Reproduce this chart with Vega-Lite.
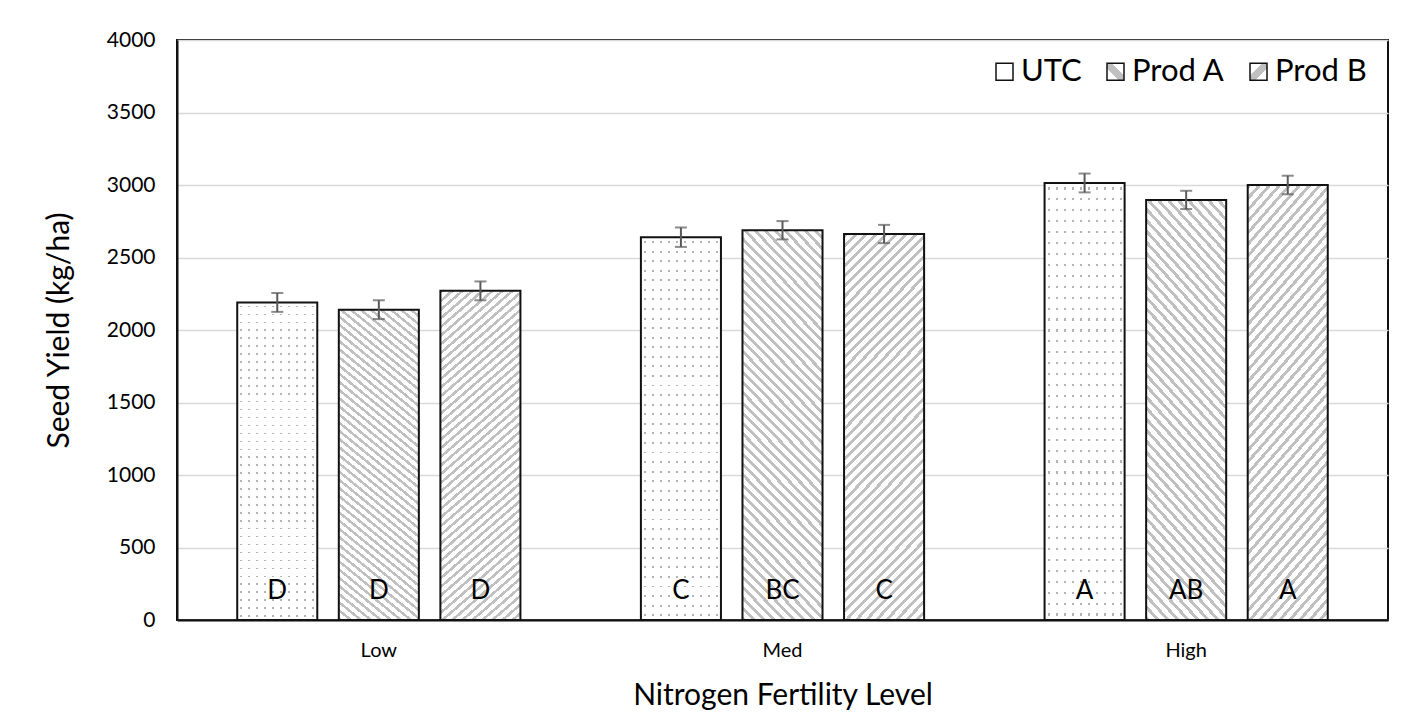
{
"$schema": "https://vega.github.io/schema/vega-lite/v6.json",
"width": 1211, "height": 580,
"autosize": {"type": "none"},
"padding": {"left": 177, "top": 40, "right": 34, "bottom": 95},
"background": "white",
"data": {"values": [
{"level":"Low","trt":"UTC","yield":2190,"lo":2125,"hi":2255,"letter":"D"},
{"level":"Low","trt":"Prod A","yield":2140,"lo":2075,"hi":2205,"letter":"D"},
{"level":"Low","trt":"Prod B","yield":2270,"lo":2205,"hi":2335,"letter":"D"},
{"level":"Med","trt":"UTC","yield":2640,"lo":2573,"hi":2707,"letter":"C"},
{"level":"Med","trt":"Prod A","yield":2688,"lo":2625,"hi":2751,"letter":"BC"},
{"level":"Med","trt":"Prod B","yield":2662,"lo":2599,"hi":2725,"letter":"C"},
{"level":"High","trt":"UTC","yield":3014,"lo":2949,"hi":3079,"letter":"A"},
{"level":"High","trt":"Prod A","yield":2897,"lo":2834,"hi":2960,"letter":"AB"},
{"level":"High","trt":"Prod B","yield":3000,"lo":2936,"hi":3064,"letter":"A"}
]},
"encoding": {
"x": {"field":"level","type":"nominal","sort":["Low","Med","High"],"scale":{"paddingInner":0,"paddingOuter":0},
 "axis":{"title":"Nitrogen Fertility Level","labelAngle":0,"labelFontSize":20,"labelPadding":20,"titleFontSize":30,"titlePadding":20,"grid":false}},
"xOffset": {"field":"trt","type":"nominal","sort":["UTC","Prod A","Prod B"],"scale":{"domain":["UTC","Prod A","Prod B"],"paddingInner":0.212,"paddingOuter":0.593}}
},
"layer": [
{"transform":[{"filter":"datum.trt === 'UTC'"}],
 "mark":{"type":"bar","strokeWidth":0,"fill":{"gradient":"linear","x1":0,"y1":0,"x2":1,"y2":0,"stops":[
{"offset":0.04,"color":"#fff"},{"offset":0.04,"color":"#b4b4b4"},{"offset":0.065,"color":"#b4b4b4"},{"offset":0.065,"color":"#fff"},
{"offset":0.14,"color":"#fff"},{"offset":0.14,"color":"#b4b4b4"},{"offset":0.165,"color":"#b4b4b4"},{"offset":0.165,"color":"#fff"},
{"offset":0.24,"color":"#fff"},{"offset":0.24,"color":"#b4b4b4"},{"offset":0.265,"color":"#b4b4b4"},{"offset":0.265,"color":"#fff"},
{"offset":0.34,"color":"#fff"},{"offset":0.34,"color":"#b4b4b4"},{"offset":0.365,"color":"#b4b4b4"},{"offset":0.365,"color":"#fff"},
{"offset":0.44,"color":"#fff"},{"offset":0.44,"color":"#b4b4b4"},{"offset":0.465,"color":"#b4b4b4"},{"offset":0.465,"color":"#fff"},
{"offset":0.54,"color":"#fff"},{"offset":0.54,"color":"#b4b4b4"},{"offset":0.565,"color":"#b4b4b4"},{"offset":0.565,"color":"#fff"},
{"offset":0.64,"color":"#fff"},{"offset":0.64,"color":"#b4b4b4"},{"offset":0.665,"color":"#b4b4b4"},{"offset":0.665,"color":"#fff"},
{"offset":0.74,"color":"#fff"},{"offset":0.74,"color":"#b4b4b4"},{"offset":0.765,"color":"#b4b4b4"},{"offset":0.765,"color":"#fff"},
{"offset":0.84,"color":"#fff"},{"offset":0.84,"color":"#b4b4b4"},{"offset":0.865,"color":"#b4b4b4"},{"offset":0.865,"color":"#fff"},
{"offset":0.94,"color":"#fff"},{"offset":0.94,"color":"#b4b4b4"},{"offset":0.965,"color":"#b4b4b4"},{"offset":0.965,"color":"#fff"}
]}},
 "encoding":{"y":{"field":"yield","type":"quantitative","scale":{"domain":[0,4000],"nice":false},
  "axis":{"title":"Seed Yield (kg/ha)","format":"d","values":[0,500,1000,1500,2000,2500,3000,3500,4000],"labelFontSize":21,"labelPadding":22,"titleFontSize":30,"titlePadding":32,"grid":true}}}},
{"transform":[{"filter":"datum.trt === 'UTC'"}],
 "mark":{"type":"bar","stroke":"#111","strokeWidth":2,"fill":{"gradient":"linear","x1":0,"y1":0,"x2":0,"y2":1,"stops":[
{"offset":0.01,"color":"#fff"},{"offset":0.01,"color":"rgba(255,255,255,0)"},{"offset":0.015,"color":"rgba(255,255,255,0)"},{"offset":0.015,"color":"#fff"},
{"offset":0.035,"color":"#fff"},{"offset":0.035,"color":"rgba(255,255,255,0)"},{"offset":0.04,"color":"rgba(255,255,255,0)"},{"offset":0.04,"color":"#fff"},
{"offset":0.06,"color":"#fff"},{"offset":0.06,"color":"rgba(255,255,255,0)"},{"offset":0.065,"color":"rgba(255,255,255,0)"},{"offset":0.065,"color":"#fff"},
{"offset":0.085,"color":"#fff"},{"offset":0.085,"color":"rgba(255,255,255,0)"},{"offset":0.09,"color":"rgba(255,255,255,0)"},{"offset":0.09,"color":"#fff"},
{"offset":0.11,"color":"#fff"},{"offset":0.11,"color":"rgba(255,255,255,0)"},{"offset":0.115,"color":"rgba(255,255,255,0)"},{"offset":0.115,"color":"#fff"},
{"offset":0.135,"color":"#fff"},{"offset":0.135,"color":"rgba(255,255,255,0)"},{"offset":0.14,"color":"rgba(255,255,255,0)"},{"offset":0.14,"color":"#fff"},
{"offset":0.16,"color":"#fff"},{"offset":0.16,"color":"rgba(255,255,255,0)"},{"offset":0.165,"color":"rgba(255,255,255,0)"},{"offset":0.165,"color":"#fff"},
{"offset":0.185,"color":"#fff"},{"offset":0.185,"color":"rgba(255,255,255,0)"},{"offset":0.19,"color":"rgba(255,255,255,0)"},{"offset":0.19,"color":"#fff"},
{"offset":0.21,"color":"#fff"},{"offset":0.21,"color":"rgba(255,255,255,0)"},{"offset":0.215,"color":"rgba(255,255,255,0)"},{"offset":0.215,"color":"#fff"},
{"offset":0.235,"color":"#fff"},{"offset":0.235,"color":"rgba(255,255,255,0)"},{"offset":0.24,"color":"rgba(255,255,255,0)"},{"offset":0.24,"color":"#fff"},
{"offset":0.26,"color":"#fff"},{"offset":0.26,"color":"rgba(255,255,255,0)"},{"offset":0.265,"color":"rgba(255,255,255,0)"},{"offset":0.265,"color":"#fff"},
{"offset":0.285,"color":"#fff"},{"offset":0.285,"color":"rgba(255,255,255,0)"},{"offset":0.29,"color":"rgba(255,255,255,0)"},{"offset":0.29,"color":"#fff"},
{"offset":0.31,"color":"#fff"},{"offset":0.31,"color":"rgba(255,255,255,0)"},{"offset":0.315,"color":"rgba(255,255,255,0)"},{"offset":0.315,"color":"#fff"},
{"offset":0.335,"color":"#fff"},{"offset":0.335,"color":"rgba(255,255,255,0)"},{"offset":0.34,"color":"rgba(255,255,255,0)"},{"offset":0.34,"color":"#fff"},
{"offset":0.36,"color":"#fff"},{"offset":0.36,"color":"rgba(255,255,255,0)"},{"offset":0.365,"color":"rgba(255,255,255,0)"},{"offset":0.365,"color":"#fff"},
{"offset":0.385,"color":"#fff"},{"offset":0.385,"color":"rgba(255,255,255,0)"},{"offset":0.39,"color":"rgba(255,255,255,0)"},{"offset":0.39,"color":"#fff"},
{"offset":0.41,"color":"#fff"},{"offset":0.41,"color":"rgba(255,255,255,0)"},{"offset":0.415,"color":"rgba(255,255,255,0)"},{"offset":0.415,"color":"#fff"},
{"offset":0.435,"color":"#fff"},{"offset":0.435,"color":"rgba(255,255,255,0)"},{"offset":0.44,"color":"rgba(255,255,255,0)"},{"offset":0.44,"color":"#fff"},
{"offset":0.46,"color":"#fff"},{"offset":0.46,"color":"rgba(255,255,255,0)"},{"offset":0.465,"color":"rgba(255,255,255,0)"},{"offset":0.465,"color":"#fff"},
{"offset":0.485,"color":"#fff"},{"offset":0.485,"color":"rgba(255,255,255,0)"},{"offset":0.49,"color":"rgba(255,255,255,0)"},{"offset":0.49,"color":"#fff"},
{"offset":0.51,"color":"#fff"},{"offset":0.51,"color":"rgba(255,255,255,0)"},{"offset":0.515,"color":"rgba(255,255,255,0)"},{"offset":0.515,"color":"#fff"},
{"offset":0.535,"color":"#fff"},{"offset":0.535,"color":"rgba(255,255,255,0)"},{"offset":0.54,"color":"rgba(255,255,255,0)"},{"offset":0.54,"color":"#fff"},
{"offset":0.56,"color":"#fff"},{"offset":0.56,"color":"rgba(255,255,255,0)"},{"offset":0.565,"color":"rgba(255,255,255,0)"},{"offset":0.565,"color":"#fff"},
{"offset":0.585,"color":"#fff"},{"offset":0.585,"color":"rgba(255,255,255,0)"},{"offset":0.59,"color":"rgba(255,255,255,0)"},{"offset":0.59,"color":"#fff"},
{"offset":0.61,"color":"#fff"},{"offset":0.61,"color":"rgba(255,255,255,0)"},{"offset":0.615,"color":"rgba(255,255,255,0)"},{"offset":0.615,"color":"#fff"},
{"offset":0.635,"color":"#fff"},{"offset":0.635,"color":"rgba(255,255,255,0)"},{"offset":0.64,"color":"rgba(255,255,255,0)"},{"offset":0.64,"color":"#fff"},
{"offset":0.66,"color":"#fff"},{"offset":0.66,"color":"rgba(255,255,255,0)"},{"offset":0.665,"color":"rgba(255,255,255,0)"},{"offset":0.665,"color":"#fff"},
{"offset":0.685,"color":"#fff"},{"offset":0.685,"color":"rgba(255,255,255,0)"},{"offset":0.69,"color":"rgba(255,255,255,0)"},{"offset":0.69,"color":"#fff"},
{"offset":0.71,"color":"#fff"},{"offset":0.71,"color":"rgba(255,255,255,0)"},{"offset":0.715,"color":"rgba(255,255,255,0)"},{"offset":0.715,"color":"#fff"},
{"offset":0.735,"color":"#fff"},{"offset":0.735,"color":"rgba(255,255,255,0)"},{"offset":0.74,"color":"rgba(255,255,255,0)"},{"offset":0.74,"color":"#fff"},
{"offset":0.76,"color":"#fff"},{"offset":0.76,"color":"rgba(255,255,255,0)"},{"offset":0.765,"color":"rgba(255,255,255,0)"},{"offset":0.765,"color":"#fff"},
{"offset":0.785,"color":"#fff"},{"offset":0.785,"color":"rgba(255,255,255,0)"},{"offset":0.79,"color":"rgba(255,255,255,0)"},{"offset":0.79,"color":"#fff"},
{"offset":0.81,"color":"#fff"},{"offset":0.81,"color":"rgba(255,255,255,0)"},{"offset":0.815,"color":"rgba(255,255,255,0)"},{"offset":0.815,"color":"#fff"},
{"offset":0.835,"color":"#fff"},{"offset":0.835,"color":"rgba(255,255,255,0)"},{"offset":0.84,"color":"rgba(255,255,255,0)"},{"offset":0.84,"color":"#fff"},
{"offset":0.86,"color":"#fff"},{"offset":0.86,"color":"rgba(255,255,255,0)"},{"offset":0.865,"color":"rgba(255,255,255,0)"},{"offset":0.865,"color":"#fff"},
{"offset":0.885,"color":"#fff"},{"offset":0.885,"color":"rgba(255,255,255,0)"},{"offset":0.89,"color":"rgba(255,255,255,0)"},{"offset":0.89,"color":"#fff"},
{"offset":0.91,"color":"#fff"},{"offset":0.91,"color":"rgba(255,255,255,0)"},{"offset":0.915,"color":"rgba(255,255,255,0)"},{"offset":0.915,"color":"#fff"},
{"offset":0.935,"color":"#fff"},{"offset":0.935,"color":"rgba(255,255,255,0)"},{"offset":0.94,"color":"rgba(255,255,255,0)"},{"offset":0.94,"color":"#fff"},
{"offset":0.96,"color":"#fff"},{"offset":0.96,"color":"rgba(255,255,255,0)"},{"offset":0.965,"color":"rgba(255,255,255,0)"},{"offset":0.965,"color":"#fff"},
{"offset":0.985,"color":"#fff"},{"offset":0.985,"color":"rgba(255,255,255,0)"},{"offset":0.99,"color":"rgba(255,255,255,0)"},{"offset":0.99,"color":"#fff"}
]}},
 "encoding":{"y":{"field":"yield","type":"quantitative"}}},
{"transform":[{"filter":"datum.trt === 'Prod A'"}],
 "mark":{"type":"bar","stroke":"#111","strokeWidth":2,"fill":{"gradient":"linear","x1":0,"y1":1,"x2":0.265,"y2":-0.26,"stops":[
{"offset":0,"color":"#c0c0c0"},{"offset":0.008,"color":"#c0c0c0"},{"offset":0.008,"color":"#fff"},{"offset":0.02,"color":"#fff"},
{"offset":0.02,"color":"#c0c0c0"},{"offset":0.028,"color":"#c0c0c0"},{"offset":0.028,"color":"#fff"},{"offset":0.04,"color":"#fff"},
{"offset":0.04,"color":"#c0c0c0"},{"offset":0.048,"color":"#c0c0c0"},{"offset":0.048,"color":"#fff"},{"offset":0.06,"color":"#fff"},
{"offset":0.06,"color":"#c0c0c0"},{"offset":0.068,"color":"#c0c0c0"},{"offset":0.068,"color":"#fff"},{"offset":0.08,"color":"#fff"},
{"offset":0.08,"color":"#c0c0c0"},{"offset":0.088,"color":"#c0c0c0"},{"offset":0.088,"color":"#fff"},{"offset":0.1,"color":"#fff"},
{"offset":0.1,"color":"#c0c0c0"},{"offset":0.108,"color":"#c0c0c0"},{"offset":0.108,"color":"#fff"},{"offset":0.12,"color":"#fff"},
{"offset":0.12,"color":"#c0c0c0"},{"offset":0.128,"color":"#c0c0c0"},{"offset":0.128,"color":"#fff"},{"offset":0.14,"color":"#fff"},
{"offset":0.14,"color":"#c0c0c0"},{"offset":0.148,"color":"#c0c0c0"},{"offset":0.148,"color":"#fff"},{"offset":0.16,"color":"#fff"},
{"offset":0.16,"color":"#c0c0c0"},{"offset":0.168,"color":"#c0c0c0"},{"offset":0.168,"color":"#fff"},{"offset":0.18,"color":"#fff"},
{"offset":0.18,"color":"#c0c0c0"},{"offset":0.188,"color":"#c0c0c0"},{"offset":0.188,"color":"#fff"},{"offset":0.2,"color":"#fff"},
{"offset":0.2,"color":"#c0c0c0"},{"offset":0.208,"color":"#c0c0c0"},{"offset":0.208,"color":"#fff"},{"offset":0.22,"color":"#fff"},
{"offset":0.22,"color":"#c0c0c0"},{"offset":0.228,"color":"#c0c0c0"},{"offset":0.228,"color":"#fff"},{"offset":0.24,"color":"#fff"},
{"offset":0.24,"color":"#c0c0c0"},{"offset":0.248,"color":"#c0c0c0"},{"offset":0.248,"color":"#fff"},{"offset":0.26,"color":"#fff"},
{"offset":0.26,"color":"#c0c0c0"},{"offset":0.268,"color":"#c0c0c0"},{"offset":0.268,"color":"#fff"},{"offset":0.28,"color":"#fff"},
{"offset":0.28,"color":"#c0c0c0"},{"offset":0.288,"color":"#c0c0c0"},{"offset":0.288,"color":"#fff"},{"offset":0.3,"color":"#fff"},
{"offset":0.3,"color":"#c0c0c0"},{"offset":0.308,"color":"#c0c0c0"},{"offset":0.308,"color":"#fff"},{"offset":0.32,"color":"#fff"},
{"offset":0.32,"color":"#c0c0c0"},{"offset":0.328,"color":"#c0c0c0"},{"offset":0.328,"color":"#fff"},{"offset":0.34,"color":"#fff"},
{"offset":0.34,"color":"#c0c0c0"},{"offset":0.348,"color":"#c0c0c0"},{"offset":0.348,"color":"#fff"},{"offset":0.36,"color":"#fff"},
{"offset":0.36,"color":"#c0c0c0"},{"offset":0.368,"color":"#c0c0c0"},{"offset":0.368,"color":"#fff"},{"offset":0.38,"color":"#fff"},
{"offset":0.38,"color":"#c0c0c0"},{"offset":0.388,"color":"#c0c0c0"},{"offset":0.388,"color":"#fff"},{"offset":0.4,"color":"#fff"},
{"offset":0.4,"color":"#c0c0c0"},{"offset":0.408,"color":"#c0c0c0"},{"offset":0.408,"color":"#fff"},{"offset":0.42,"color":"#fff"},
{"offset":0.42,"color":"#c0c0c0"},{"offset":0.428,"color":"#c0c0c0"},{"offset":0.428,"color":"#fff"},{"offset":0.44,"color":"#fff"},
{"offset":0.44,"color":"#c0c0c0"},{"offset":0.448,"color":"#c0c0c0"},{"offset":0.448,"color":"#fff"},{"offset":0.46,"color":"#fff"},
{"offset":0.46,"color":"#c0c0c0"},{"offset":0.468,"color":"#c0c0c0"},{"offset":0.468,"color":"#fff"},{"offset":0.48,"color":"#fff"},
{"offset":0.48,"color":"#c0c0c0"},{"offset":0.488,"color":"#c0c0c0"},{"offset":0.488,"color":"#fff"},{"offset":0.5,"color":"#fff"},
{"offset":0.5,"color":"#c0c0c0"},{"offset":0.508,"color":"#c0c0c0"},{"offset":0.508,"color":"#fff"},{"offset":0.52,"color":"#fff"},
{"offset":0.52,"color":"#c0c0c0"},{"offset":0.528,"color":"#c0c0c0"},{"offset":0.528,"color":"#fff"},{"offset":0.54,"color":"#fff"},
{"offset":0.54,"color":"#c0c0c0"},{"offset":0.548,"color":"#c0c0c0"},{"offset":0.548,"color":"#fff"},{"offset":0.56,"color":"#fff"},
{"offset":0.56,"color":"#c0c0c0"},{"offset":0.568,"color":"#c0c0c0"},{"offset":0.568,"color":"#fff"},{"offset":0.58,"color":"#fff"},
{"offset":0.58,"color":"#c0c0c0"},{"offset":0.588,"color":"#c0c0c0"},{"offset":0.588,"color":"#fff"},{"offset":0.6,"color":"#fff"},
{"offset":0.6,"color":"#c0c0c0"},{"offset":0.608,"color":"#c0c0c0"},{"offset":0.608,"color":"#fff"},{"offset":0.62,"color":"#fff"},
{"offset":0.62,"color":"#c0c0c0"},{"offset":0.628,"color":"#c0c0c0"},{"offset":0.628,"color":"#fff"},{"offset":0.64,"color":"#fff"},
{"offset":0.64,"color":"#c0c0c0"},{"offset":0.648,"color":"#c0c0c0"},{"offset":0.648,"color":"#fff"},{"offset":0.66,"color":"#fff"},
{"offset":0.66,"color":"#c0c0c0"},{"offset":0.668,"color":"#c0c0c0"},{"offset":0.668,"color":"#fff"},{"offset":0.68,"color":"#fff"},
{"offset":0.68,"color":"#c0c0c0"},{"offset":0.688,"color":"#c0c0c0"},{"offset":0.688,"color":"#fff"},{"offset":0.7,"color":"#fff"},
{"offset":0.7,"color":"#c0c0c0"},{"offset":0.708,"color":"#c0c0c0"},{"offset":0.708,"color":"#fff"},{"offset":0.72,"color":"#fff"},
{"offset":0.72,"color":"#c0c0c0"},{"offset":0.728,"color":"#c0c0c0"},{"offset":0.728,"color":"#fff"},{"offset":0.74,"color":"#fff"},
{"offset":0.74,"color":"#c0c0c0"},{"offset":0.748,"color":"#c0c0c0"},{"offset":0.748,"color":"#fff"},{"offset":0.76,"color":"#fff"},
{"offset":0.76,"color":"#c0c0c0"},{"offset":0.768,"color":"#c0c0c0"},{"offset":0.768,"color":"#fff"},{"offset":0.78,"color":"#fff"},
{"offset":0.78,"color":"#c0c0c0"},{"offset":0.788,"color":"#c0c0c0"},{"offset":0.788,"color":"#fff"},{"offset":0.8,"color":"#fff"},
{"offset":0.8,"color":"#c0c0c0"},{"offset":0.808,"color":"#c0c0c0"},{"offset":0.808,"color":"#fff"},{"offset":0.82,"color":"#fff"},
{"offset":0.82,"color":"#c0c0c0"},{"offset":0.828,"color":"#c0c0c0"},{"offset":0.828,"color":"#fff"},{"offset":0.84,"color":"#fff"},
{"offset":0.84,"color":"#c0c0c0"},{"offset":0.848,"color":"#c0c0c0"},{"offset":0.848,"color":"#fff"},{"offset":0.86,"color":"#fff"},
{"offset":0.86,"color":"#c0c0c0"},{"offset":0.868,"color":"#c0c0c0"},{"offset":0.868,"color":"#fff"},{"offset":0.88,"color":"#fff"},
{"offset":0.88,"color":"#c0c0c0"},{"offset":0.888,"color":"#c0c0c0"},{"offset":0.888,"color":"#fff"},{"offset":0.9,"color":"#fff"},
{"offset":0.9,"color":"#c0c0c0"},{"offset":0.908,"color":"#c0c0c0"},{"offset":0.908,"color":"#fff"},{"offset":0.92,"color":"#fff"},
{"offset":0.92,"color":"#c0c0c0"},{"offset":0.928,"color":"#c0c0c0"},{"offset":0.928,"color":"#fff"},{"offset":0.94,"color":"#fff"}
]}},
 "encoding":{"y":{"field":"yield","type":"quantitative"}}},
{"transform":[{"filter":"datum.trt === 'Prod B'"}],
 "mark":{"type":"bar","stroke":"#111","strokeWidth":2,"fill":{"gradient":"linear","x1":0,"y1":0,"x2":0.265,"y2":1.26,"stops":[
{"offset":0,"color":"#c0c0c0"},{"offset":0.008,"color":"#c0c0c0"},{"offset":0.008,"color":"#fff"},{"offset":0.02,"color":"#fff"},
{"offset":0.02,"color":"#c0c0c0"},{"offset":0.028,"color":"#c0c0c0"},{"offset":0.028,"color":"#fff"},{"offset":0.04,"color":"#fff"},
{"offset":0.04,"color":"#c0c0c0"},{"offset":0.048,"color":"#c0c0c0"},{"offset":0.048,"color":"#fff"},{"offset":0.06,"color":"#fff"},
{"offset":0.06,"color":"#c0c0c0"},{"offset":0.068,"color":"#c0c0c0"},{"offset":0.068,"color":"#fff"},{"offset":0.08,"color":"#fff"},
{"offset":0.08,"color":"#c0c0c0"},{"offset":0.088,"color":"#c0c0c0"},{"offset":0.088,"color":"#fff"},{"offset":0.1,"color":"#fff"},
{"offset":0.1,"color":"#c0c0c0"},{"offset":0.108,"color":"#c0c0c0"},{"offset":0.108,"color":"#fff"},{"offset":0.12,"color":"#fff"},
{"offset":0.12,"color":"#c0c0c0"},{"offset":0.128,"color":"#c0c0c0"},{"offset":0.128,"color":"#fff"},{"offset":0.14,"color":"#fff"},
{"offset":0.14,"color":"#c0c0c0"},{"offset":0.148,"color":"#c0c0c0"},{"offset":0.148,"color":"#fff"},{"offset":0.16,"color":"#fff"},
{"offset":0.16,"color":"#c0c0c0"},{"offset":0.168,"color":"#c0c0c0"},{"offset":0.168,"color":"#fff"},{"offset":0.18,"color":"#fff"},
{"offset":0.18,"color":"#c0c0c0"},{"offset":0.188,"color":"#c0c0c0"},{"offset":0.188,"color":"#fff"},{"offset":0.2,"color":"#fff"},
{"offset":0.2,"color":"#c0c0c0"},{"offset":0.208,"color":"#c0c0c0"},{"offset":0.208,"color":"#fff"},{"offset":0.22,"color":"#fff"},
{"offset":0.22,"color":"#c0c0c0"},{"offset":0.228,"color":"#c0c0c0"},{"offset":0.228,"color":"#fff"},{"offset":0.24,"color":"#fff"},
{"offset":0.24,"color":"#c0c0c0"},{"offset":0.248,"color":"#c0c0c0"},{"offset":0.248,"color":"#fff"},{"offset":0.26,"color":"#fff"},
{"offset":0.26,"color":"#c0c0c0"},{"offset":0.268,"color":"#c0c0c0"},{"offset":0.268,"color":"#fff"},{"offset":0.28,"color":"#fff"},
{"offset":0.28,"color":"#c0c0c0"},{"offset":0.288,"color":"#c0c0c0"},{"offset":0.288,"color":"#fff"},{"offset":0.3,"color":"#fff"},
{"offset":0.3,"color":"#c0c0c0"},{"offset":0.308,"color":"#c0c0c0"},{"offset":0.308,"color":"#fff"},{"offset":0.32,"color":"#fff"},
{"offset":0.32,"color":"#c0c0c0"},{"offset":0.328,"color":"#c0c0c0"},{"offset":0.328,"color":"#fff"},{"offset":0.34,"color":"#fff"},
{"offset":0.34,"color":"#c0c0c0"},{"offset":0.348,"color":"#c0c0c0"},{"offset":0.348,"color":"#fff"},{"offset":0.36,"color":"#fff"},
{"offset":0.36,"color":"#c0c0c0"},{"offset":0.368,"color":"#c0c0c0"},{"offset":0.368,"color":"#fff"},{"offset":0.38,"color":"#fff"},
{"offset":0.38,"color":"#c0c0c0"},{"offset":0.388,"color":"#c0c0c0"},{"offset":0.388,"color":"#fff"},{"offset":0.4,"color":"#fff"},
{"offset":0.4,"color":"#c0c0c0"},{"offset":0.408,"color":"#c0c0c0"},{"offset":0.408,"color":"#fff"},{"offset":0.42,"color":"#fff"},
{"offset":0.42,"color":"#c0c0c0"},{"offset":0.428,"color":"#c0c0c0"},{"offset":0.428,"color":"#fff"},{"offset":0.44,"color":"#fff"},
{"offset":0.44,"color":"#c0c0c0"},{"offset":0.448,"color":"#c0c0c0"},{"offset":0.448,"color":"#fff"},{"offset":0.46,"color":"#fff"},
{"offset":0.46,"color":"#c0c0c0"},{"offset":0.468,"color":"#c0c0c0"},{"offset":0.468,"color":"#fff"},{"offset":0.48,"color":"#fff"},
{"offset":0.48,"color":"#c0c0c0"},{"offset":0.488,"color":"#c0c0c0"},{"offset":0.488,"color":"#fff"},{"offset":0.5,"color":"#fff"},
{"offset":0.5,"color":"#c0c0c0"},{"offset":0.508,"color":"#c0c0c0"},{"offset":0.508,"color":"#fff"},{"offset":0.52,"color":"#fff"},
{"offset":0.52,"color":"#c0c0c0"},{"offset":0.528,"color":"#c0c0c0"},{"offset":0.528,"color":"#fff"},{"offset":0.54,"color":"#fff"},
{"offset":0.54,"color":"#c0c0c0"},{"offset":0.548,"color":"#c0c0c0"},{"offset":0.548,"color":"#fff"},{"offset":0.56,"color":"#fff"},
{"offset":0.56,"color":"#c0c0c0"},{"offset":0.568,"color":"#c0c0c0"},{"offset":0.568,"color":"#fff"},{"offset":0.58,"color":"#fff"},
{"offset":0.58,"color":"#c0c0c0"},{"offset":0.588,"color":"#c0c0c0"},{"offset":0.588,"color":"#fff"},{"offset":0.6,"color":"#fff"},
{"offset":0.6,"color":"#c0c0c0"},{"offset":0.608,"color":"#c0c0c0"},{"offset":0.608,"color":"#fff"},{"offset":0.62,"color":"#fff"},
{"offset":0.62,"color":"#c0c0c0"},{"offset":0.628,"color":"#c0c0c0"},{"offset":0.628,"color":"#fff"},{"offset":0.64,"color":"#fff"},
{"offset":0.64,"color":"#c0c0c0"},{"offset":0.648,"color":"#c0c0c0"},{"offset":0.648,"color":"#fff"},{"offset":0.66,"color":"#fff"},
{"offset":0.66,"color":"#c0c0c0"},{"offset":0.668,"color":"#c0c0c0"},{"offset":0.668,"color":"#fff"},{"offset":0.68,"color":"#fff"},
{"offset":0.68,"color":"#c0c0c0"},{"offset":0.688,"color":"#c0c0c0"},{"offset":0.688,"color":"#fff"},{"offset":0.7,"color":"#fff"},
{"offset":0.7,"color":"#c0c0c0"},{"offset":0.708,"color":"#c0c0c0"},{"offset":0.708,"color":"#fff"},{"offset":0.72,"color":"#fff"},
{"offset":0.72,"color":"#c0c0c0"},{"offset":0.728,"color":"#c0c0c0"},{"offset":0.728,"color":"#fff"},{"offset":0.74,"color":"#fff"},
{"offset":0.74,"color":"#c0c0c0"},{"offset":0.748,"color":"#c0c0c0"},{"offset":0.748,"color":"#fff"},{"offset":0.76,"color":"#fff"},
{"offset":0.76,"color":"#c0c0c0"},{"offset":0.768,"color":"#c0c0c0"},{"offset":0.768,"color":"#fff"},{"offset":0.78,"color":"#fff"},
{"offset":0.78,"color":"#c0c0c0"},{"offset":0.788,"color":"#c0c0c0"},{"offset":0.788,"color":"#fff"},{"offset":0.8,"color":"#fff"},
{"offset":0.8,"color":"#c0c0c0"},{"offset":0.808,"color":"#c0c0c0"},{"offset":0.808,"color":"#fff"},{"offset":0.82,"color":"#fff"},
{"offset":0.82,"color":"#c0c0c0"},{"offset":0.828,"color":"#c0c0c0"},{"offset":0.828,"color":"#fff"},{"offset":0.84,"color":"#fff"},
{"offset":0.84,"color":"#c0c0c0"},{"offset":0.848,"color":"#c0c0c0"},{"offset":0.848,"color":"#fff"},{"offset":0.86,"color":"#fff"},
{"offset":0.86,"color":"#c0c0c0"},{"offset":0.868,"color":"#c0c0c0"},{"offset":0.868,"color":"#fff"},{"offset":0.88,"color":"#fff"},
{"offset":0.88,"color":"#c0c0c0"},{"offset":0.888,"color":"#c0c0c0"},{"offset":0.888,"color":"#fff"},{"offset":0.9,"color":"#fff"},
{"offset":0.9,"color":"#c0c0c0"},{"offset":0.908,"color":"#c0c0c0"},{"offset":0.908,"color":"#fff"},{"offset":0.92,"color":"#fff"},
{"offset":0.92,"color":"#c0c0c0"},{"offset":0.928,"color":"#c0c0c0"},{"offset":0.928,"color":"#fff"},{"offset":0.94,"color":"#fff"}
]}},
 "encoding":{"y":{"field":"yield","type":"quantitative"}}},
{"mark":{"type":"bar","stroke":"#111","strokeWidth":2},
 "encoding":{"y":{"datum":0,"type":"quantitative"},"y2":{"datum":0},
  "fill":{"field":"trt","type":"nominal","scale":{"domain":["UTC","Prod A","Prod B"],"range":["#ffffff",
   {"expr":"{gradient: 'linear', x1: 0, y1: 1, x2: 1, y2: 0, stops: [{offset: 0, color: '#fff'}, {offset: 0.36, color: '#fff'}, {offset: 0.36, color: '#c0c0c0'}, {offset: 0.64, color: '#c0c0c0'}, {offset: 0.64, color: '#fff'}, {offset: 1, color: '#fff'}]}"},
   {"expr":"{gradient: 'linear', x1: 0, y1: 0, x2: 1, y2: 1, stops: [{offset: 0, color: '#fff'}, {offset: 0.36, color: '#fff'}, {offset: 0.36, color: '#c0c0c0'}, {offset: 0.64, color: '#c0c0c0'}, {offset: 0.64, color: '#fff'}, {offset: 1, color: '#fff'}]}"}]},
   "legend":{"title":null,"orient":"none","legendX":812,"legendY":16,"direction":"horizontal","symbolType":"square","symbolSize":289,"symbolStrokeColor":"#111","symbolStrokeWidth":1.5,"labelFont":"Lato","labelFontSize":31,"labelColor":"black","columnPadding":18,"labelOffset":1,"padding":0}}}},
{"mark":{"type":"rule","color":"#5a5a5a","strokeWidth":2},
 "encoding":{"y":{"field":"lo","type":"quantitative"},"y2":{"field":"hi"}}},
{"mark":{"type":"tick","color":"#5a5a5a","thickness":2,"size":12},
 "encoding":{"y":{"field":"lo","type":"quantitative"}}},
{"mark":{"type":"tick","color":"#5a5a5a","thickness":2,"size":12},
 "encoding":{"y":{"field":"hi","type":"quantitative"}}},
{"mark":{"type":"text","font":"Lato","fontSize":26,"color":"black","baseline":"middle"},
 "encoding":{"y":{"datum":200,"type":"quantitative"},"text":{"field":"letter"}}}
],
"config": {
 "font":"Lato",
 "view":{"stroke":"#111","strokeWidth":2},
 "axis":{"labelFont":"Lato","titleFont":"Lato","labelColor":"black","titleColor":"black","titleFontWeight":"normal","domainColor":"#111","domainWidth":2,"ticks":false,"gridColor":"#d9d9d9","gridWidth":1.5}
}
}
